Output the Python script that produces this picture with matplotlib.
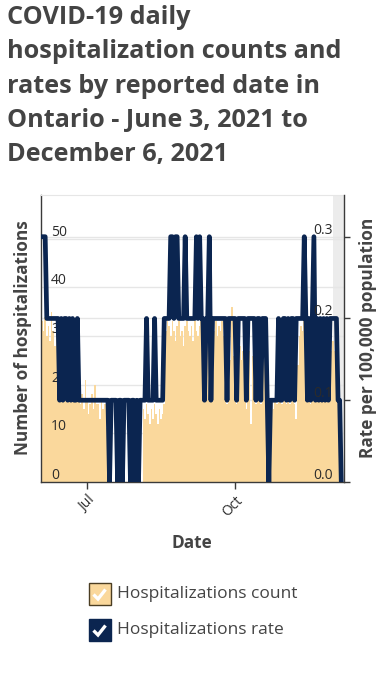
import numpy as np
import pandas as pd
import matplotlib
matplotlib.use("Agg")
import matplotlib.pyplot as plt
import matplotlib.dates as mdates
import matplotlib.transforms as mtransforms
from matplotlib.patches import Rectangle
from matplotlib.lines import Line2D

plt.rcParams['font.family'] = ['Open Sans', 'DejaVu Sans']

# ---------------- data ----------------
start_date = "2021-06-03"
end_date = "2021-12-06"

hosp_count = [
    33, 31, 34, 30, 32, 29, 35, 31, 28, 32, 30,
    27, 24, 22, 26, 20, 23, 19, 25, 21, 18, 22, 19, 17,
    16, 18, 15, 21, 17, 14, 16, 18, 15, 20, 16, 16, 13, 17, 15, 16, 11,
    0, 0, 0, 0, 0, 0, 0, 0, 0, 0, 0, 0, 0, 0, 0, 0, 0, 0, 0, 0, 0, 0,
    15, 13, 16, 14, 12, 15, 13, 16, 14, 12, 15, 13, 14, 16,
    31, 33, 32, 30, 33, 31, 29, 32, 33, 30, 31, 28, 32, 33, 31, 30,
    32, 29, 33, 31, 30, 32, 33, 31, 29, 32, 31, 30,
    17, 32, 31, 33, 30, 32, 31, 33, 30, 29, 16, 27, 25, 36, 26, 28, 16, 26,
    28, 25, 27, 24, 15, 25, 27, 12, 26, 28, 16, 25, 27, 16, 26, 25, 24, 17,
    0,
    16, 17, 15, 17, 16, 18, 17, 16,
    17, 22, 16, 20, 16, 21, 18, 16, 13, 24, 30, 32, 31,
    33, 28, 17, 22, 16, 20, 26, 17, 22, 17, 24, 18, 25, 20, 26, 22,
    28, 27, 29, 27, 26,
    20, 17,
    0,
]

hosp_rate = [
    0.3, 0.3, 0.3,
    0.2, 0.2, 0.2, 0.2, 0.2, 0.2, 0.2, 0.2,
    0.1, 0.2, 0.1, 0.2, 0.2, 0.1, 0.2, 0.1, 0.2, 0.1, 0.1, 0.2, 0.1,
    0.1, 0.1, 0.1, 0.1, 0.1, 0.1, 0.1, 0.1, 0.1, 0.1, 0.1, 0.1, 0.1, 0.1, 0.1, 0.1, 0.1,
    0.1, 0.0, 0.1, 0.1, 0.1, 0.1, 0.0, 0.1, 0.1, 0.0, 0.1, 0.1, 0.1, 0.1, 0.0, 0.1,
    0.1, 0.0, 0.1, 0.0, 0.1, 0.1,
    0.1, 0.1, 0.2, 0.1, 0.1, 0.1, 0.1, 0.2, 0.1, 0.1, 0.1, 0.1, 0.1, 0.2,
    0.2, 0.2, 0.2,
    0.3, 0.3, 0.2, 0.3, 0.3, 0.2, 0.2, 0.2, 0.2, 0.3,
    0.2, 0.2, 0.2, 0.2, 0.2, 0.2, 0.3, 0.2, 0.3, 0.2, 0.2, 0.1, 0.2, 0.2, 0.3,
    0.1, 0.2, 0.2, 0.2, 0.2, 0.2, 0.2, 0.2, 0.2, 0.2, 0.1, 0.2, 0.2, 0.2, 0.2,
    0.2, 0.1, 0.2, 0.2, 0.2, 0.2, 0.2, 0.1, 0.2, 0.2, 0.2, 0.2, 0.2, 0.1, 0.2,
    0.2, 0.1, 0.2, 0.2, 0.2, 0.1,
    0.0,
    0.1, 0.1, 0.1, 0.1, 0.1, 0.2, 0.1, 0.1,
    0.2, 0.2, 0.1, 0.2, 0.1, 0.2, 0.2, 0.1, 0.2, 0.2, 0.2, 0.2, 0.2,
    0.3,
    0.2, 0.1, 0.2, 0.1, 0.2, 0.3, 0.1, 0.2, 0.1, 0.2, 0.1, 0.2, 0.1, 0.2, 0.1,
    0.2, 0.2, 0.2, 0.2, 0.2,
    0.1, 0.1,
    0.0,
]

left_ticks = [0, 10, 20, 30, 40, 50]
right_ticks = [0.0, 0.1, 0.2, 0.3]
right_tick_labels = ["0.0", "0.1", "0.2", "0.3"]
x_tick_dates = ["2021-07-01", "2021-10-01"]
x_tick_labels = ["Jul", "Oct"]
shade_start = "2021-11-30 17:00"

title_lines = [
    "COVID-19 daily",
    "hospitalization counts and",
    "rates by reported date in",
    "Ontario - June 3, 2021 to",
    "December 6, 2021",
]
legend_labels = ["Hospitalizations count", "Hospitalizations rate"]

dates = pd.date_range(start_date, end_date, freq="D")
assert len(dates) == len(hosp_count) == len(hosp_rate), (len(dates), len(hosp_count), len(hosp_rate))

# ---------------- style ----------------
ORANGE = "#fad89c"
NAVY = "#0b2550"
TXT = "#444444"
TICK = "#2b2b2b"
GRID = "#e6e6e6"

W, H = 392, 680
fig = plt.figure(figsize=(W / 100, H / 100), dpi=100)

def fx(px):
    return px / W

def fy(py):
    return 1 - py / H

ax_l, ax_r, ax_t, ax_b = 41, 344, 195, 482
ax = fig.add_axes([fx(ax_l), fy(ax_b), fx(ax_r - ax_l), (ax_b - ax_t) / H])
ax2 = ax.twinx()

d0 = mdates.date2num(pd.Timestamp(start_date))
ax.set_xlim(d0 - 0.6, d0 + 187.7)
ax.set_ylim(0, 59.0)
ax2.set_ylim(0, 0.351)

# background shade for incomplete data
ax.axvspan(mdates.date2num(pd.Timestamp(shade_start)), d0 + 187.7,
           color="#ececec", lw=0, zorder=0)

# gridlines
for v in left_ticks[1:]:
    ax.axhline(v, color=GRID, lw=1, zorder=0.5)
blend_r = mtransforms.blended_transform_factory(ax.transAxes, ax2.transData)
for v in right_ticks[1:]:
    ax.plot([0, 1], [v, v], transform=blend_r, color=GRID, lw=1, zorder=0.5)

# bars
ax.bar(dates, hosp_count, width=1.0, color=ORANGE, linewidth=0, zorder=2)

# rate line
ax2.plot(dates, hosp_rate, color=NAVY, lw=3.4, solid_joinstyle="round", zorder=3)

# spines
for s in ["left", "bottom"]:
    ax.spines[s].set_color("#3a3a3a")
    ax.spines[s].set_linewidth(1)
ax.spines["top"].set_color(GRID)
ax.spines["right"].set_visible(False)
for s in ["left", "bottom", "top"]:
    ax2.spines[s].set_visible(False)
ax2.spines["right"].set_color("#3a3a3a")
ax2.spines["right"].set_linewidth(1)

# ticks
ax.set_yticks(left_ticks)
ax.set_yticklabels([])
ax.tick_params(axis="y", length=0)
ax2.set_yticks(right_ticks)
ax2.set_yticklabels([])
ax2.tick_params(axis="y", direction="out", length=4, width=1, color="#3a3a3a")

ax.set_xticks([mdates.date2num(pd.Timestamp(d)) for d in x_tick_dates])
ax.set_xticklabels(x_tick_labels, rotation=45, ha="right", va="top",
                   rotation_mode="anchor", fontsize=10, color=TICK)
ax.tick_params(axis="x", direction="out", length=5, width=1, color="#3a3a3a", pad=3)

# inside tick labels
blend_l = mtransforms.blended_transform_factory(ax.transAxes, ax.transData)
off_l = mtransforms.offset_copy(blend_l, fig=fig, x=0, y=3, units="dots")
for v in left_ticks:
    ax.text((51 - ax_l) / (ax_r - ax_l), v, str(v), transform=off_l,
            ha="left", va="baseline", fontsize=10, color=TICK, zorder=5)
off_r = mtransforms.offset_copy(blend_r, fig=fig, x=0, y=3, units="dots")
for v, lab in zip(right_ticks, right_tick_labels):
    ax2.text((333 - ax_l) / (ax_r - ax_l), v, lab, transform=off_r,
             ha="right", va="baseline", fontsize=10, color=TICK, zorder=5)

# axis titles
fig.text(fx(23), fy(338), "Number of hospitalizations", rotation=90,
         ha="center", va="center", fontsize=12.4, fontweight="bold", color=TXT)
fig.text(fx(368), fy(338), "Rate per 100,000 population", rotation=90,
         ha="center", va="center", fontsize=12.4, fontweight="bold", color=TXT)
fig.text(fx(192), fy(543), "Date", ha="center", va="center",
         fontsize=12.4, fontweight="bold", color=TXT)

# title
baselines = [24, 58.3, 92.6, 126.8, 161]
for line, b in zip(title_lines, baselines):
    fig.text(fx(7), fy(b), line, ha="left", va="baseline",
             fontsize=18.2, fontweight="bold", color=TXT)

# legend
leg_colors = [ORANGE, NAVY]
leg_edges = ["#4a3d22", NAVY]
leg_y = [594, 630]
for lab, c, ec, yc in zip(legend_labels, leg_colors, leg_edges, leg_y):
    x0, y0, s = 88.5, yc - 11, 22
    fig.patches.append(Rectangle((fx(x0), fy(y0 + s)), s / W, s / H,
                                 transform=fig.transFigure, facecolor=c,
                                 edgecolor=ec, lw=1))
    fig.lines.append(Line2D([fx(x0 + 5), fx(x0 + 9.5), fx(x0 + 17)],
                            [fy(yc + 0.5), fy(yc + 5), fy(yc - 4.5)],
                            transform=fig.transFigure, color="white", lw=2.4,
                            solid_capstyle="butt", solid_joinstyle="miter"))
    fig.text(fx(117), fy(yc), lab, ha="left", va="center", fontsize=12.5,
             color=TXT)

fig.savefig("out.png", dpi=100)
